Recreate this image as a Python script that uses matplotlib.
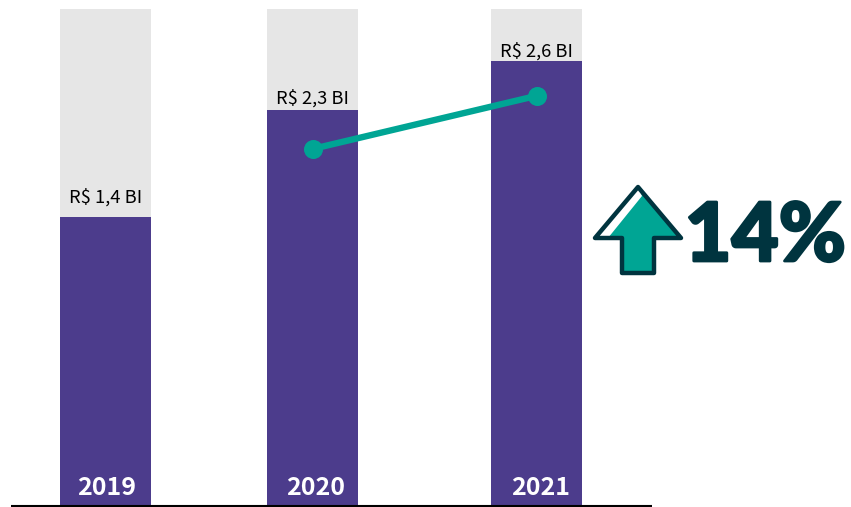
import matplotlib
matplotlib.use("Agg")
import matplotlib.pyplot as plt
import matplotlib.patheffects as pe
from matplotlib.patches import Polygon

years = ["2019", "2020", "2021"]
x_pos = [105.5, 312.5, 536.5]
# bar heights in % of the grey background column, the source does not scale them to the labels
heights = [58.1, 79.6, 89.5]
background = [100, 100, 100]
labels = ["R$ 1,4 BI", "R$ 2,3 BI", "R$ 2,6 BI"]
label_y = [62.1, 81.9, 91.5]
year_x = [107, 316, 540.5]
line_x = [313, 537]
line_y = [71.8, 82.5]

PURPLE = "#4c3c8c"
GREY = "#e6e6e6"
TEAL = "#00a594"
DARK = "#00343f"
FONT = ["Noto Sans CJK KR", "DejaVu Sans"]

fig = plt.figure(figsize=(8.51, 5.07), dpi=100)
ax = fig.add_axes([0, 0, 1, 1])
ax.set_xlim(0, 851)
ax.set_ylim(-0.4, 101.8)
ax.axis("off")

ax.bar(x_pos, background, width=91, color=GREY, linewidth=0, zorder=1)
ax.bar(x_pos, heights, width=91, color=PURPLE, linewidth=0, zorder=2)
ax.plot([11, 652], [-0.15, -0.15], color="black", lw=1.5, zorder=3, solid_capstyle="butt")
ax.plot(line_x, line_y, color=TEAL, lw=4.6, marker="o", ms=13.7, mew=0, zorder=4)

for x, y, lab in zip(x_pos, label_y, labels):
    ax.text(x, y, lab, ha="center", va="center", fontsize=13.2, color="black",
            family=FONT, zorder=5)
for x, yr in zip(year_x, years):
    ax.text(x, 3.5, yr, ha="center", va="center", fontsize=18, color="white",
            fontweight="bold", family=FONT, zorder=5)

# arrow + 14% callout, drawn in pixel coordinates
ov = fig.add_axes([0, 0, 1, 1])
ov.set_xlim(0, 851)
ov.set_ylim(507, 0)
ov.axis("off")
ov.patch.set_alpha(0)
arrow = [(638, 187), (595, 238), (622, 238), (622, 273), (654, 273), (654, 238), (681, 238)]
ov.add_patch(Polygon(arrow, closed=True, facecolor=TEAL, edgecolor="none", zorder=1))
ov.add_patch(Polygon([(638, 187), (595, 238), (608, 238), (642, 196)], closed=True,
                     facecolor="white", edgecolor="none", zorder=2))
ov.add_patch(Polygon(arrow, closed=True, facecolor="none", edgecolor=DARK, lw=3.2,
                     joinstyle="round", zorder=3))
pct = ov.text(846, 261, "14%", ha="right", va="baseline", fontsize=58.5, color=DARK,
              fontweight="black", family=["Lato", "DejaVu Sans"], zorder=4)
pct.set_path_effects([pe.withStroke(linewidth=2, foreground=DARK)])

fig.savefig("out.png", dpi=100)
